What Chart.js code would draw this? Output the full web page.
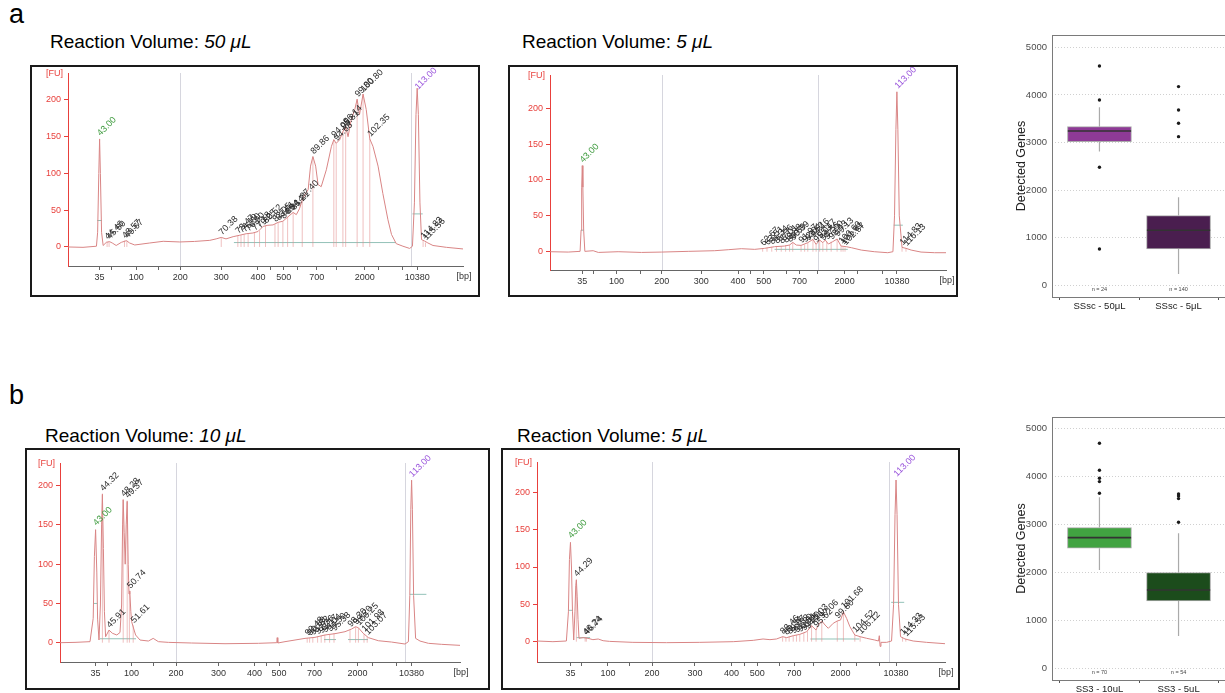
<!DOCTYPE html>
<html>
<head>
<meta charset="utf-8">
<title>Reaction volume</title>
<script src="https://cdn.jsdelivr.net/npm/chart.js@4.4.1/dist/chart.umd.min.js"></script>
<style>
  body { margin: 0; width: 1225px; height: 693px; overflow: hidden; background: #fff; position: relative; font-family: "Liberation Sans", Arial, sans-serif; }
  .tag { position: absolute; font-size: 27px; line-height: 1; color: #000; }
  .ttl { position: absolute; font-size: 19px; line-height: 1; white-space: nowrap; color: #000; }
  .frame { position: absolute; border: 2px solid #1a1a1a; box-sizing: border-box; }
  canvas { position: absolute; }
</style>
</head>
<body>
<div class="tag" style="left:9px;top:1px">a</div>
<div class="tag" style="left:9px;top:382px">b</div>
<div class="ttl" style="left:50px;top:32px">Reaction Volume: <i>50 μL</i></div>
<div class="ttl" style="left:522px;top:32px">Reaction Volume: <i>5 μL</i></div>
<div class="ttl" style="left:45px;top:426px">Reaction Volume: <i>10 μL</i></div>
<div class="ttl" style="left:517px;top:426px">Reaction Volume: <i>5 μL</i></div>

<div class="frame" style="left:30px;top:65px;width:450px;height:232px"></div>
<div class="frame" style="left:508px;top:65px;width:450px;height:232px"></div>
<div class="frame" style="left:25px;top:448px;width:465px;height:242px"></div>
<div class="frame" style="left:501px;top:448px;width:459px;height:242px"></div>

<canvas id="a1" width="446" height="228" style="left:32px;top:67px"></canvas>
<canvas id="a2" width="446" height="228" style="left:510px;top:67px"></canvas>
<canvas id="b1" width="461" height="238" style="left:27px;top:450px"></canvas>
<canvas id="b2" width="455" height="238" style="left:503px;top:450px"></canvas>
<canvas id="boxA" width="240" height="290" style="left:990px;top:30px"></canvas>
<canvas id="boxB" width="240" height="290" style="left:990px;top:410px"></canvas>

<script>
Chart.defaults.font.family = '"Liberation Sans", Arial, sans-serif';
Chart.defaults.animation = false;

// x axis of the electropherograms is run position (0-100), labelled in bp
const BP_TICK_LABELS = ['35', '', '100', '', '200', '300', '400', '', '500', '', '700', '', '2000', '', '', '10380'];
const FU_TICKS = [0, 50, 100, 150, 200];
const MARK_TXT = ['43.00', '113.00'];
const MARK_COLORS = ['#3c9a3c', '#9a55dc'];

// --- a, 50 uL ---
const A1_TICKS = [8.0, 11.0, 17.3, 22.8, 28.4, 38.8, 48.1, 51.2, 54.6, 58.2, 63.0, 68.1, 75.1, 78.7, 84.8, 88.4];
const A1_X = [
  0, 3.8, 7.2, 7.5, 7.8, 8.0, 8.2, 8.5, 8.9, 9.7,
  10.5, 11.2, 12.2, 13.5, 14.8, 15.6, 16.9, 20.7, 24.1, 28.3,
  32.0, 35.9, 37.5, 38.8, 40.0, 41.8, 43.5, 45.1, 46.8, 48.1,
  49.4, 50.6, 51.9, 53.2, 54.4, 55.7, 57.0, 57.8, 58.6, 59.5,
  60.8, 61.4, 62.0, 62.7, 63.3, 64.1, 65.4, 66.7, 67.3, 67.9,
  68.8, 69.6, 70.3, 70.9, 71.7, 72.6, 73.2, 73.8, 74.7, 75.5,
  76.4, 77.2, 78.5, 79.7, 81.0, 81.9, 83.1, 84.8, 86.5, 87.2,
  87.7, 88.1, 88.4, 88.7, 89.1, 89.5, 90.3, 91.1, 92.4, 95.8,
  100];
const A1_Y = [
  0, -0.5, 1, 20, 100, 147, 100, 20, 2, 6.3,
  7.3, 5.4, 2, 6.3, 8.6, 5.4, 2.7, 5.4, 7.7, 6.8,
  7.5, 9, 11, 13, 11, 14, 16, 18, 19, 21,
  28, 29.5, 30, 33.5, 35, 41, 47, 44, 52, 67,
  78, 110, 123, 110, 85, 82, 105, 137, 146, 141,
  146, 157, 164, 150, 173, 187, 201, 180, 208, 187,
  147, 137, 110, 73, 37, 17, 4.5, 1, -2, 1,
  60, 180, 216, 180, 60, 10, 8, 5.5, 2, -0.5,
  -2.7];
const A1_PK_X = [9.9, 10.4, 14.3, 14.9, 38.8, 43.0, 43.8, 44.6, 45.6, 47.2, 48.5, 50.0, 52.4, 53.2, 54.4, 55.6, 57.0, 59.3, 62.0, 67.3, 67.9, 69.6, 70.3, 73.2, 74.7, 76.4, 89.9, 90.5];
const A1_PK_Y = [7, 7, 8.6, 8.6, 13, 15, 16, 17, 18, 19, 22, 29, 31, 33, 35, 41, 47, 62, 123, 146, 141, 157, 164, 201, 208, 147, 8, 6];
const A1_PK_TXT = ['44.46', '45.60', '48.57', '49.67', '70.38', '73.47', '74.19', '75.50', '76.90', '77.18', '79.25', '80.52', '82.05', '83.61', '84.04', '85.14', '86.21', '87.40', '89.86', '94.05', '94.68', '95.81', '96.14', '99.80', '100.80', '102.35', '114.83', '115.56'];
const A1_MARK_X = [8.0, 88.4];
const A1_MARK_Y = [148, 211];
const A1_GUIDES = [28.4, 86.9];
const A1_BASE = [[7.4, 8.6, 36], [42, 83, 6], [87.2, 89.8, 45]];

// --- a, 5 uL ---
const A2_TICKS = [8.15, 10.9, 16.8, 22.9, 28.2, 38.2, 47.5, 50.7, 54.0, 59.7, 63.0, 67.6, 74.4, 77.6, 84.0, 87.6];
const A2_X = [
  0, 4.6, 7.6, 7.85, 8.0, 8.15, 8.3, 8.5, 8.8, 10.9,
  12.2, 17.2, 23.1, 28.2, 34.9, 41.6, 45.0, 48.3, 51.7, 54.2,
  56.7, 59.2, 60.5, 61.3, 62.2, 63.4, 65.1, 66.4, 67.2, 68.1,
  68.9, 69.5, 70.3, 71.4, 72.5, 73.5, 74.8, 76.1, 78.6, 81.9,
  85.3, 86.6, 87.0, 87.35, 87.6, 87.85, 88.2, 88.9, 89.9, 91.2,
  93.7, 97.1, 100];
const A2_Y = [
  0, -0.5, 0.5, 30, 90, 120, 90, 30, 0.5, 1.4,
  -1, 0, -1, -0.5, 0.5, 1.4, 2.8, 4.2, 3.3, 4.7,
  7, 7.9, 9.3, 13, 9.3, 8.8, 12.6, 17.2, 10.2, 16.3,
  12.6, 16.3, 10.7, 14, 17.7, 7.9, 7, 5.6, 2.3, 0,
  -1.4, 0, 50, 170, 223, 170, 50, 6, 4.7, 2.3,
  -0.5, -1.4, -1.4];
const A2_PK_X = [53.7, 54.8, 56.0, 57.2, 58.4, 59.5, 60.5, 61.3, 63.4, 64.3, 65.1, 66.4, 67.2, 68.1, 68.9, 69.9, 71.0, 72.5, 73.5, 74.0, 74.5, 88.9, 89.9];
const A2_PK_Y = [5, 6, 7, 8, 8, 9, 10, 13, 9, 10, 12, 17, 10, 16, 12, 14, 14, 18, 8, 7, 6, 6, 5];
const A2_PK_TXT = ['62.67', '63.51', '84.34', '85.96', '87.01', '88.88', '89.69', '90.39', '91.97', '92.64', '93.52', '94.16', '95.01', '95.47', '96.56', '97.00', '98.43', '99.13', '100.60', '101.61', '102.57', '114.83', '116.13'];
const A2_MARK_X = [8.15, 87.6];
const A2_MARK_Y = [121, 224];
const A2_GUIDES = [28.2, 67.6];
const A2_BASE = [[7.8, 8.6, 30], [56.7, 75.2, 3.3], [86.8, 89.1, 37]];

// --- b, 10 uL ---
const B1_TICKS = [8.9, 11.9, 17.9, 23.3, 29.0, 39.6, 48.6, 51.7, 54.75, 60.25, 63.6, 68.1, 74.4, 78.2, 84.2, 87.9];
const B1_X = [
  0, 3.75, 7.5, 8.3, 8.6, 8.9, 9.2, 9.4, 9.75, 10.1,
  10.4, 10.6, 10.85, 11.1, 11.4, 12.25, 13.1, 14.2, 15.0, 15.4,
  15.65, 15.8, 16.05, 16.3, 16.55, 16.8, 17.05, 17.25, 17.45, 17.7,
  17.9, 18.3, 18.9, 20.0, 22.1, 23.3, 24.6, 27.1, 32.9, 41.25,
  49.6, 54.2, 54.3, 54.45, 56.25, 58.75, 61.25, 63.75, 66.25, 68.75,
  71.25, 72.9, 73.9, 74.6, 75.8, 77.1, 79.6, 82.9, 86.25, 87.1,
  87.45, 87.7, 87.9, 88.1, 88.4, 88.9, 90.0, 92.1, 95.4, 100];
const B1_Y = [
  0, 0.4, 1.3, 31, 110, 144, 90, 30, 3.4, 48,
  150, 189, 120, 40, 7.6, 16, 12, 9.8, 13, 48,
  150, 182, 140, 100, 150, 180, 100, 62, 66, 40,
  27, 20, 9.8, 3.4, 2.1, 5.5, 1.3, 0.4, -0.4, -1.3,
  -0.8, 0, 6.4, -0.4, 1.3, 3.4, 5.5, 6.8, 9.8, 11.5,
  14, 17.4, 20.4, 19, 12, 6.4, 2.5, 0.8, -1.7, 1.3,
  60, 170, 207, 170, 60, 5.5, 2.1, -0.8, -2.1, -3.4];
const B1_PK_X = [10.6, 12.25, 15.8, 16.8, 17.35, 18.3, 61.8, 62.4, 63.2, 64.4, 65.3, 66.2, 67.4, 68.5, 72.5, 73.9, 74.6, 76.0, 76.8];
const B1_PK_Y = [190, 16, 183, 181, 66, 22, 6, 6, 7, 8, 9, 10, 11, 12, 17, 20, 19, 11, 7];
const B1_PK_TXT = ['44.32', '45.91', '48.28', '49.37', '50.74', '51.61', '90.48', '90.68', '91.52', '92.36', '93.17', '94.04', '94.50', '95.38', '98.30', '99.20', '100.25', '101.98', '103.07'];
const B1_MARK_X = [8.9, 87.9];
const B1_MARK_Y = [146, 208];
const B1_GUIDES = [29.0, 86.25];
const B1_BASE = [[8.5, 9.3, 50], [10.0, 19.0, 5], [66, 69, 4], [72, 77, 4], [87.5, 91.6, 61.6]];

// --- b, 5 uL ---
const B2_TICKS = [8.2, 11.0, 17.4, 22.7, 28.2, 38.7, 47.7, 50.9, 54.0, 59.5, 63.0, 67.7, 74.4, 78.2, 83.9, 88.0];
const B2_X = [
  0, 3.9, 7.2, 7.7, 7.95, 8.2, 8.45, 8.7, 9.0, 9.3,
  9.5, 9.65, 9.85, 10.05, 10.3, 11.3, 12.5, 13.7, 15.0, 16.2,
  17.8, 23.5, 31.7, 39.9, 48.1, 53.0, 55.4, 57.1, 58.7, 60.2,
  61.2, 62.8, 64.4, 66.1, 67.3, 68.4, 68.9, 69.8, 70.6, 71.4,
  72.6, 73.6, 74.4, 75.1, 75.9, 76.7, 77.9, 79.2, 80.8, 82.8,
  83.7, 83.9, 84.1, 84.3, 85.7, 86.9, 87.4, 87.75, 88.0, 88.25,
  88.6, 89.1, 90.2, 92.2, 95.5, 100];
const B2_Y = [
  0.9, 0, 0.9, 40, 110, 133, 100, 40, 2.2, 40,
  75, 82.6, 60, 30, 4.5, 5.4, 4.5, 2.7, 3.6, 1.3,
  0.4, -0.9, -1.3, -0.9, 0, 1.8, 3.6, 2.7, 3.6, 6.7,
  5.4, 8, 9.8, 13.4, 21.4, 15.6, 22.3, 27.7, 22.3, 17.9,
  24.6, 27.7, 29, 40, 31, 20, 8.9, 6.7, 4.5, 2.2,
  0.9, 8, -6.3, -0.9, -0.9, 0.9, 50, 170, 216.5, 170,
  50, 6.7, 3.6, 0.9, -0.9, -2.7];
const B2_PK_X = [9.65, 11.8, 12.1, 60.2, 61.0, 61.8, 62.8, 63.6, 64.4, 65.4, 66.3, 67.3, 68.4, 69.8, 73.6, 75.1, 77.9, 79.2, 89.6, 90.4];
const B2_PK_Y = [84, 6, 6, 7, 6, 7, 8, 9, 10, 12, 14, 22, 16, 28, 28, 41, 9, 7, 6, 4];
const B2_PK_TXT = ['44.29', '46.24', '46.74', '88.46', '89.34', '89.97', '90.52', '91.30', '92.31', '93.20', '94.21', '95.03', '95.62', '97.06', '99.80', '101.68', '104.52', '106.12', '114.33', '115.53'];
const B2_MARK_X = [8.2, 88.0];
const B2_MARK_Y = [135, 218];
const B2_GUIDES = [28.2, 86.3];
const B2_BASE = [[7.8, 8.8, 42], [9.7, 13.0, 5.4], [67, 79, 3.6], [86.8, 90.0, 52.7]];

// --- detected genes (box plots) ---
const GENE_TICKS = [0, 1000, 2000, 3000, 4000, 5000];
const SSSC_CATS = ['SSsc - 50μL', 'SSsc - 5μL'];
const SSSC_LO = [2808, 238];
const SSSC_Q1 = [3018, 763];
const SSSC_MED = [3242, 1155];
const SSSC_Q3 = [3333, 1464];
const SSSC_HI = [3739, 1849];
const SSSC_OUT = [[4608, 3893, 2479, 763], [4174, 3683, 3403, 3123]];
const SSSC_N = ['n = 24', 'n = 140'];

const SS3_CATS = ['SS3 - 10uL', 'SS3 - 5uL'];
const SS3_LO = [2049, 674];
const SS3_Q1 = [2500, 1403];
const SS3_MED = [2722, 1632];
const SS3_Q3 = [2931, 1993];
const SS3_HI = [3562, 2812];
const SS3_OUT = [[4688, 4125, 3958, 3889, 3646], [3632, 3590, 3535, 3042]];
const SS3_N = ['n = 70', 'n = 54'];

function peakDecor(d) {
  return {
    id: 'peaks',
    beforeDatasetsDraw(chart) {
      const { ctx, chartArea: a, scales: { x } } = chart;
      ctx.save();
      ctx.strokeStyle = '#d6d6de';
      ctx.lineWidth = 1;
      d.guides.forEach(g => {
        const px = Math.round(x.getPixelForValue(g)) + 0.5;
        ctx.beginPath();
        ctx.moveTo(px, a.top);
        ctx.lineTo(px, a.bottom);
        ctx.stroke();
      });
      ctx.restore();
    },
    afterDatasetsDraw(chart) {
      const { ctx, chartArea: a, scales: { x, y } } = chart;
      ctx.save();
      ctx.font = '9px "Liberation Sans"';
      const tag = (vx, vy, txt, col) => {
        ctx.save();
        ctx.translate(x.getPixelForValue(vx) + 1, y.getPixelForValue(vy) - 2);
        ctx.rotate(-Math.PI / 4);
        ctx.fillStyle = col;
        ctx.fillText(txt, 0, 0);
        ctx.restore();
      };
      d.pkX.forEach((v, i) => tag(v, d.pkY[i], d.pkTxt[i], '#2a2a2a'));
      d.markX.forEach((v, i) => tag(v, d.markY[i], MARK_TXT[i], MARK_COLORS[i]));
      ctx.font = '9px "Liberation Sans"';
      ctx.textBaseline = 'middle';
      ctx.fillStyle = '#e8403c';
      ctx.textAlign = 'right';
      ctx.fillText('[FU]', a.left - 5, a.top + 1);
      ctx.fillStyle = '#333';
      ctx.textAlign = 'center';
      ctx.fillText('[bp]', a.right + 1, a.bottom + 11);
      ctx.restore();
    }
  };
}

function electro(id, d, L) {
  const trace = d.xs.map((x, i) => ({ x, y: d.ys[i] }));
  const drops = [];
  d.pkX.forEach((x, i) => drops.push({ x, y: 0 }, { x, y: d.pkY[i] }, { x, y: null }));
  const base = [];
  d.base.forEach(s => base.push({ x: s[0], y: s[2] }, { x: s[1], y: s[2] }, { x: s[1], y: null }));

  new Chart(document.getElementById(id), {
    type: 'line',
    data: {
      datasets: [
        { data: trace, borderColor: '#d98585', borderWidth: 1, pointRadius: 0, tension: 0 },
        { data: drops, borderColor: 'rgba(226,140,140,0.55)', borderWidth: 1, pointRadius: 0, spanGaps: false },
        { data: base, borderColor: '#93c2b8', borderWidth: 1, pointRadius: 0, spanGaps: false }
      ]
    },
    options: {
      responsive: false,
      animation: false,
      events: [],
      layout: { padding: { left: 0, top: L.padT, right: L.padR, bottom: 0 } },
      plugins: { legend: { display: false }, tooltip: { enabled: false } },
      scales: {
        x: {
          type: 'linear', min: 0, max: 100,
          afterBuildTicks: s => { s.ticks = d.ticks.map(v => ({ value: v })); },
          ticks: { autoSkip: false, maxRotation: 0, color: '#333', font: { size: 9 }, padding: 2,
                   callback: (v, i) => BP_TICK_LABELS[i] },
          grid: { drawOnChartArea: false, tickLength: 4, color: '#666' },
          border: { color: '#666' },
          afterFit: s => { s.height = L.xh; s.paddingLeft = 0; s.paddingRight = 0; }
        },
        y: {
          min: d.yMin, max: d.yMax,
          afterBuildTicks: s => { s.ticks = FU_TICKS.map(v => ({ value: v })); },
          ticks: { color: '#e8403c', font: { size: 9 }, padding: 3 },
          grid: { drawOnChartArea: false, tickLength: 4, color: '#e8403c' },
          border: { color: '#e8403c' },
          afterFit: s => { s.width = L.yw; s.paddingTop = 0; s.paddingBottom = 0; }
        }
      }
    },
    plugins: [peakDecor(d)]
  });
}

function boxDecor(b) {
  return {
    id: 'boxdecor',
    afterDatasetsDraw(chart) {
      const { ctx, chartArea: a, scales: { x, y } } = chart;
      ctx.save();
      ctx.strokeStyle = '#7a7a7a';
      ctx.lineWidth = 1;
      ctx.strokeRect(a.left + 0.5, a.top + 0.5, a.right - a.left, a.bottom - a.top);
      ctx.font = '5.5px "Liberation Sans"';
      ctx.fillStyle = '#444';
      ctx.textAlign = 'center';
      ctx.textBaseline = 'middle';
      b.n.forEach((t, i) => ctx.fillText(t, x.getPixelForValue(i + 1), y.getPixelForValue(0) + 4.5));
      ctx.restore();
    }
  };
}

function boxplot(id, b, L) {
  const boxes = b.q1.map((q, i) => ({ x: i + 1, y: [q, b.q3[i]] }));
  const whisk = [], meds = [], outs = [];
  b.q1.forEach((q, i) => {
    const x = i + 1;
    whisk.push({ x, y: b.hi[i] }, { x, y: b.q3[i] }, { x, y: null }, { x, y: q }, { x, y: b.lo[i] }, { x, y: null });
    meds.push({ x: x - 0.4, y: b.med[i] }, { x: x + 0.4, y: b.med[i] }, { x, y: null });
    b.out[i].forEach(v => outs.push({ x, y: v }));
  });

  new Chart(document.getElementById(id), {
    type: 'bar',
    data: {
      datasets: [
        { type: 'scatter', data: outs, pointRadius: 1.7, pointBackgroundColor: '#1a1a1a', pointBorderWidth: 0 },
        { type: 'line', data: meds, borderColor: '#333', borderWidth: 1.6, pointRadius: 0, spanGaps: false },
        { type: 'bar', data: boxes, backgroundColor: b.colors, borderColor: '#aaaaaa', borderWidth: 1,
          borderSkipped: false, barThickness: 64 },
        { type: 'line', data: whisk, borderColor: '#aaaaaa', borderWidth: 1.2, pointRadius: 0, spanGaps: false }
      ]
    },
    options: {
      responsive: false,
      animation: false,
      events: [],
      layout: { padding: { left: 0, top: L.padT, right: L.padR, bottom: 0 } },
      plugins: { legend: { display: false }, tooltip: { enabled: false } },
      scales: {
        x: {
          type: 'linear', min: 0.4, max: 2.6, offset: false,
          afterBuildTicks: s => { s.ticks = [1, 2].map(v => ({ value: v })); },
          ticks: { color: '#1a1a1a', font: { size: 9.5 }, padding: 1, callback: (v, i) => b.cats[i] },
          grid: { drawOnChartArea: false, tickLength: 3, color: '#555' },
          border: { display: false },
          afterFit: s => { s.height = L.xh; s.paddingLeft = 0; s.paddingRight = 0; }
        },
        y: {
          min: b.yMin, max: b.yMax,
          afterBuildTicks: s => { s.ticks = GENE_TICKS.map(v => ({ value: v })); },
          ticks: { color: '#4d4d4d', font: { size: 9.5 }, padding: 5, callback: v => String(v) },
          grid: { color: '#c4c4c4', lineWidth: 0.8, drawTicks: false },
          border: { display: false, dash: [1, 2] },
          title: { display: true, text: 'Detected Genes', color: '#222', font: { size: 12.5 }, padding: { top: 24, bottom: 0 } },
          afterFit: s => { s.width = L.yw; s.paddingTop = 0; s.paddingBottom = 0; }
        }
      }
    },
    plugins: [boxDecor(b)]
  });
}

electro('a1', { xs: A1_X, ys: A1_Y, ticks: A1_TICKS, pkX: A1_PK_X, pkY: A1_PK_Y, pkTxt: A1_PK_TXT,
  markX: A1_MARK_X, markY: A1_MARK_Y, guides: A1_GUIDES, base: A1_BASE, yMin: -25.9, yMax: 236.7 },
  { yw: 36, xh: 29, padT: 6, padR: 15 });
electro('a2', { xs: A2_X, ys: A2_Y, ticks: A2_TICKS, pkX: A2_PK_X, pkY: A2_PK_Y, pkTxt: A2_PK_TXT,
  markX: A2_MARK_X, markY: A2_MARK_Y, guides: A2_GUIDES, base: A2_BASE, yMin: -25.5, yMax: 246.4 },
  { yw: 40, xh: 25, padT: 8, padR: 10 });
electro('b1', { xs: B1_X, ys: B1_Y, ticks: B1_TICKS, pkX: B1_PK_X, pkY: B1_PK_Y, pkTxt: B1_PK_TXT,
  markX: B1_MARK_X, markY: B1_MARK_Y, guides: B1_GUIDES, base: B1_BASE, yMin: -24.6, yMax: 228.9 },
  { yw: 33, xh: 26, padT: 13, padR: 28 });
electro('b2', { xs: B2_X, ys: B2_Y, ticks: B2_TICKS, pkX: B2_PK_X, pkY: B2_PK_Y, pkTxt: B2_PK_TXT,
  markX: B2_MARK_X, markY: B2_MARK_Y, guides: B2_GUIDES, base: B2_BASE, yMin: -27.2, yMax: 240.6 },
  { yw: 34, xh: 26, padT: 12, padR: 13 });

boxplot('boxA', { cats: SSSC_CATS, lo: SSSC_LO, q1: SSSC_Q1, med: SSSC_MED, q3: SSSC_Q3, hi: SSSC_HI,
  out: SSSC_OUT, n: SSSC_N, colors: ['#8e3a96', '#4a1e4f'], yMin: -246, yMax: 5258 },
  { yw: 62, xh: 23, padT: 5, padR: 2 });
boxplot('boxB', { cats: SS3_CATS, lo: SS3_LO, q1: SS3_Q1, med: SS3_MED, q3: SS3_Q3, hi: SS3_HI,
  out: SS3_OUT, n: SS3_N, colors: ['#41a341', '#1c4c1c'], yMin: -244, yMax: 5235 },
  { yw: 62, xh: 20, padT: 7, padR: 2 });
</script>
</body>
</html>
